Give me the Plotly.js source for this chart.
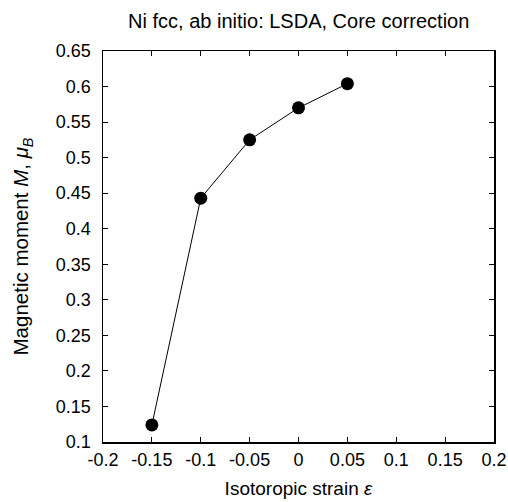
<!DOCTYPE html>
<html><head><meta charset="utf-8">
<script src="https://cdn.plot.ly/plotly-3.0.1.min.js"></script>
<style>html,body{margin:0;padding:0;background:#fff}#c{width:508px;height:502px}</style>
</head><body><div id="c"></div>
<script>
const strain = [-0.15, -0.10, -0.05, 0.00, 0.05];
const moment = [0.124, 0.443, 0.525, 0.570, 0.604];
const xTickVals = [-0.2, -0.15, -0.1, -0.05, 0, 0.05, 0.1, 0.15, 0.2];
const xTickText = ["-0.2", "-0.15", "-0.1", "-0.05", "0", "0.05", "0.1", "0.15", "0.2"];
const yTickVals = [0.1, 0.15, 0.2, 0.25, 0.3, 0.35, 0.4, 0.45, 0.5, 0.55, 0.6, 0.65];
const yTickText = ["0.1", "0.15", "0.2", "0.25", "0.3", "0.35", "0.4", "0.45", "0.5", "0.55", "0.6", "0.65"];

const font = "Liberation Sans, Arial, sans-serif";
const axisCommon = {
  showgrid: false, zeroline: false, showline: true, linecolor: "#000", linewidth: 1.5,
  mirror: "ticks", ticks: "inside", ticklen: 5, tickwidth: 1, tickcolor: "#000",
  tickfont: {family: font, size: 18, color: "#000"}, tickmode: "array"
};
Plotly.newPlot("c", [{
  x: strain, y: moment, mode: "lines+markers", type: "scatter",
  line: {color: "#000", width: 1},
  marker: {color: "#000", size: 13}
}], {
  width: 508, height: 502,
  margin: {l: 103, r: 14, t: 51, b: 60},
  paper_bgcolor: "#fff", plot_bgcolor: "#fff",
  showlegend: false,
  title: {text: "Ni fcc, ab initio: LSDA, Core correction", font: {family: font, size: 20, color: "#000"}, x: 0.588, xanchor: "center", y: 0.958, yanchor: "middle"},
  xaxis: Object.assign({}, axisCommon, {range: [-0.2, 0.2], tickvals: xTickVals, ticktext: xTickText,
    ticklabelstandoff: 1, automargin: false,
    title: {text: "Isotoropic strain <i>ε</i>", font: {family: font, size: 19, color: "#000"}, standoff: 12}}),
  yaxis: Object.assign({}, axisCommon, {range: [0.1, 0.65], tickvals: yTickVals, ticktext: yTickText,
    ticklabelstandoff: 7, automargin: false,
    title: {text: "Magnetic moment <i>M</i>, <i>μ</i><sub><i>B</i></sub>", font: {family: font, size: 20.5, color: "#000"}, standoff: 21}})
}, {displayModeBar: false, staticPlot: true});
</script></body></html>
